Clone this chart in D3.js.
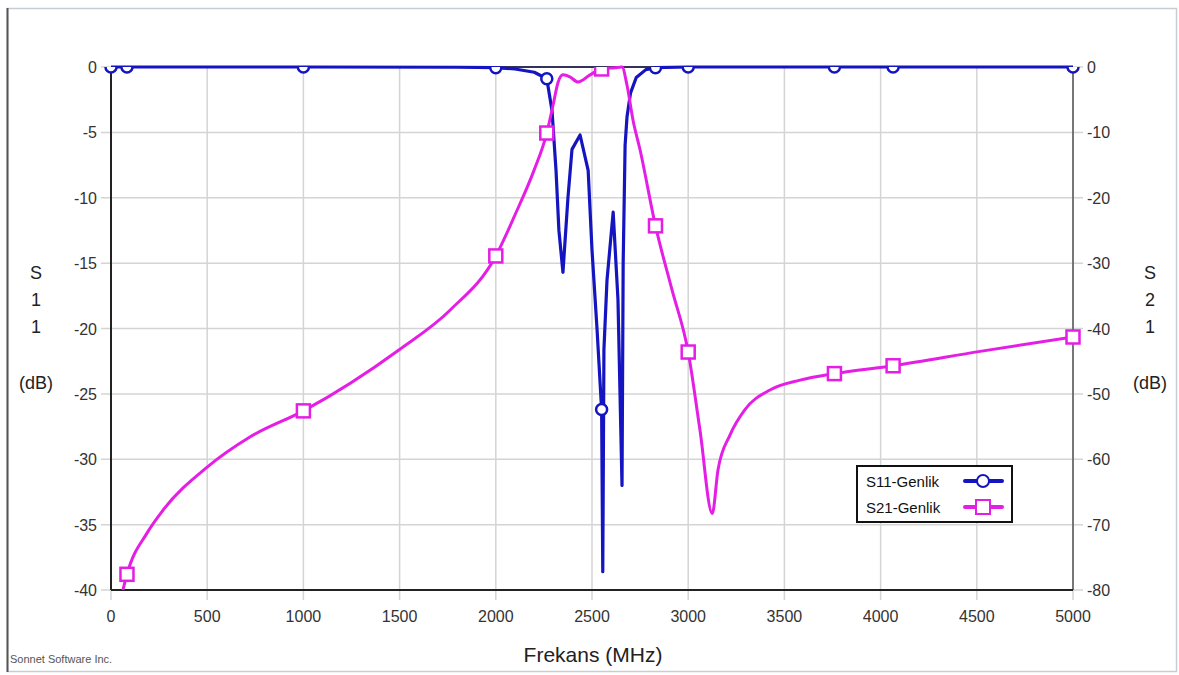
<!DOCTYPE html>
<html>
<head>
<meta charset="utf-8">
<script src="https://cdn.jsdelivr.net/npm/d3@7"></script>
<style>
  body { margin: 0; background: #fff; }
  text { font-family: Arial, "Liberation Sans", sans-serif; }
</style>
</head>
<body>
<div class="container"></div>
<script>
// frequency ticks and the two dB axes
var freqTicks = [0, 500, 1000, 1500, 2000, 2500, 3000, 3500, 4000, 4500, 5000];
var s11Ticks = [0, -5, -10, -15, -20, -25, -30, -35, -40];
var s21Ticks = [0, -10, -20, -30, -40, -50, -60, -70, -80];

// S11 magnitude (dB)
var s11Freq = [0, 83, 1000, 1800, 2000, 2100, 2200, 2265, 2292, 2313, 2328, 2349, 2375, 2396, 2438, 2480, 2500, 2526, 2550, 2556, 2562, 2578, 2610, 2635, 2656, 2662, 2672, 2682, 2700, 2730, 2780, 2830, 3000, 3760, 4065, 5000];
var s11Val  = [0, 0, 0, -0.02, -0.05, -0.15, -0.4, -0.9, -3.3, -7.9, -12.5, -15.7, -10, -6.3, -5.2, -7.9, -14, -20, -26.2, -38.6, -21.6, -16.3, -11.1, -17.8, -32, -15, -6, -3.8, -2, -0.8, -0.2, -0.05, 0, 0, 0, 0];
var s11Marks = [0, 83, 1000, 2000, 2265, 2550, 2830, 3000, 3760, 4065, 5000];

// S21 magnitude (dB)
var s21Freq = [62, 83, 187, 270, 500, 722, 1000, 1500, 1762, 2000, 2100, 2200, 2265, 2300, 2323, 2349, 2385, 2427, 2490, 2550, 2620, 2656, 2682, 2713, 2750, 2830, 2916, 3000, 3061, 3125, 3155, 3217, 3295, 3425, 3581, 3760, 4065, 4517, 5000];
var s21Val  = [-80, -77.6, -71.3, -67.8, -61.2, -56.6, -52.6, -43.2, -37.2, -28.9, -22.6, -15.7, -10.1, -5.5, -2.4, -1.2, -1.5, -2.3, -1.2, -0.3, -0.1, 0, -2.8, -8.1, -12.7, -24.3, -34.1, -43.6, -55.5, -68.3, -61.6, -56.3, -52.4, -49.4, -47.9, -46.9, -45.7, -43.5, -41.3];
var s21Marks = [83, 1000, 2000, 2265, 2550, 2830, 3000, 3760, 4065, 5000];

var W = 1179, H = 675;
var s11Color = "#1414c0", s21Color = "#e51ee5";

var svg = d3.select(".container").append("svg")
  .attr("width", W).attr("height", H);

// outer frame
svg.append("rect").attr("x", 7.5).attr("y", 8.5).attr("width", 1169).attr("height", 663)
  .style("fill", "none").style("stroke", "#c8ccd4").style("stroke-width", 1.5);
svg.append("line").attr("x1", 7.5).attr("x2", 7.5).attr("y1", 8).attr("y2", 672)
  .style("stroke", "#555").style("stroke-width", 2);

var x = d3.scaleLinear().domain([0, 5000]).range([111, 1073]);
var yL = d3.scaleLinear().domain([-40, 0]).range([590, 67]);
var yR = d3.scaleLinear().domain([-80, 0]).range([590, 67]);

var defs = svg.append("defs");
defs.append("clipPath").attr("id", "clip").append("rect")
  .attr("x", 111).attr("y", 60).attr("width", 962).attr("height", 530);
// markers are cut by the top edge of the plot
defs.append("clipPath").attr("id", "clipm").append("rect")
  .attr("x", 100).attr("y", 67).attr("width", 985).attr("height", 530);

// grid
var plot = svg.append("g");
plot.selectAll(".vg").data(freqTicks).enter().append("line")
  .attr("x1", function(d) { return x(d); }).attr("x2", function(d) { return x(d); })
  .attr("y1", 67).attr("y2", 600)
  .style("stroke", "#d4d4d4").style("stroke-width", 1.5);
plot.selectAll(".hg").data(s11Ticks).enter().append("line")
  .attr("x1", 101).attr("x2", 1083)
  .attr("y1", function(d) { return yL(d); }).attr("y2", function(d) { return yL(d); })
  .style("stroke", "#d4d4d4").style("stroke-width", 1.5);

// axes lines
svg.append("line").attr("x1", 111).attr("x2", 1073).attr("y1", 67).attr("y2", 67)
  .style("stroke", "#33335a").style("stroke-width", 2);
svg.append("line").attr("x1", 1073).attr("x2", 1073).attr("y1", 67).attr("y2", 590)
  .style("stroke", "#555").style("stroke-width", 1.5);
svg.append("line").attr("x1", 111).attr("x2", 1073).attr("y1", 590).attr("y2", 590)
  .style("stroke", "#222").style("stroke-width", 2);
svg.append("line").attr("x1", 111).attr("x2", 111).attr("y1", 67).attr("y2", 590)
  .style("stroke", "#222").style("stroke-width", 2);

// tick labels
svg.selectAll(".xl").data(freqTicks).enter().append("text")
  .attr("x", function(d) { return x(d); }).attr("y", 622)
  .attr("text-anchor", "middle").style("font-size", "16px").style("fill", "#333")
  .text(function(d) { return d; });
svg.selectAll(".yl").data(s11Ticks).enter().append("text")
  .attr("x", 97).attr("y", function(d) { return yL(d) + 6; })
  .attr("text-anchor", "end").style("font-size", "16px").style("fill", "#333")
  .text(function(d) { return d; });
svg.selectAll(".yr").data(s21Ticks).enter().append("text")
  .attr("x", 1087).attr("y", function(d) { return yR(d) + 6; })
  .attr("text-anchor", "start").style("font-size", "16px").style("fill", "#333")
  .text(function(d) { return d; });

// axis titles
svg.append("text").attr("x", 593).attr("y", 662).attr("text-anchor", "middle")
  .style("font-size", "21px").style("fill", "#222").text("Frekans (MHz)");

function stackLabel(cx, chars) {
  var ys = [279, 306, 333, 389];
  chars.forEach(function(c, i) {
    svg.append("text").attr("x", cx).attr("y", ys[i]).attr("text-anchor", "middle")
      .style("font-size", "18px").style("fill", "#222").text(c);
  });
}
stackLabel(36, ["S", "1", "1", "(dB)"]);
stackLabel(1150, ["S", "2", "1", "(dB)"]);

svg.append("text").attr("x", 10).attr("y", 663)
  .style("font-size", "11px").style("fill", "#555").text("Sonnet Software Inc.");

// series
var s11 = s11Freq.map(function(f, i) { return { f: f, v: s11Val[i] }; });
var s21 = s21Freq.map(function(f, i) { return { f: f, v: s21Val[i] }; });

var lineL = d3.line().x(function(d) { return x(d.f); }).y(function(d) { return yL(d.v); });
var lineR = d3.line().curve(d3.curveMonotoneX)
  .x(function(d) { return x(d.f); }).y(function(d) { return yR(d.v); });

var lines = svg.append("g").attr("clip-path", "url(#clip)");
lines.append("path").datum(s11).attr("d", lineL)
  .style("fill", "none").style("stroke", s11Color).style("stroke-width", 3.2)
  .style("stroke-linejoin", "round");
lines.append("path").datum(s21).attr("d", lineR)
  .style("fill", "none").style("stroke", s21Color).style("stroke-width", 3)
  .style("stroke-linejoin", "round");

// markers
var s11m = s11.filter(function(d) { return s11Marks.indexOf(d.f) >= 0; });
var s21m = s21.filter(function(d) { return s21Marks.indexOf(d.f) >= 0; });

var marks = svg.append("g").attr("clip-path", "url(#clipm)");
marks.selectAll(".c11").data(s11m).enter().append("circle")
  .attr("cx", function(d) { return x(d.f); }).attr("cy", function(d) { return yL(d.v); })
  .attr("r", 5.5).style("fill", "#fff").style("stroke", s11Color).style("stroke-width", 2.5);
marks.selectAll(".s21").data(s21m).enter().append("rect")
  .attr("x", function(d) { return x(d.f) - 6.5; }).attr("y", function(d) { return yR(d.v) - 6.5; })
  .attr("width", 13).attr("height", 13)
  .style("fill", "#fff").style("stroke", s21Color).style("stroke-width", 2.5);

// legend
var lg = svg.append("g");
lg.append("rect").attr("x", 857).attr("y", 466).attr("width", 155).attr("height", 56)
  .style("fill", "#fff").style("stroke", "#111").style("stroke-width", 2);
var legendItems = [
  { name: "S11-Genlik", color: s11Color, shape: "circle", y: 481 },
  { name: "S21-Genlik", color: s21Color, shape: "square", y: 507 }
];
legendItems.forEach(function(it) {
  lg.append("text").attr("x", 866).attr("y", it.y + 5.5)
    .style("font-size", "15px").style("fill", "#111").text(it.name);
  lg.append("line").attr("x1", 965).attr("x2", 1002).attr("y1", it.y).attr("y2", it.y)
    .style("stroke", it.color).style("stroke-width", 4).style("stroke-linecap", "round");
  if (it.shape == "circle") {
    lg.append("circle").attr("cx", 983).attr("cy", it.y).attr("r", 6)
      .style("fill", "#fff").style("stroke", it.color).style("stroke-width", 2);
  } else {
    lg.append("rect").attr("x", 976).attr("y", it.y - 7).attr("width", 14).attr("height", 14)
      .style("fill", "#fff").style("stroke", it.color).style("stroke-width", 2);
  }
});
</script>
</body>
</html>
